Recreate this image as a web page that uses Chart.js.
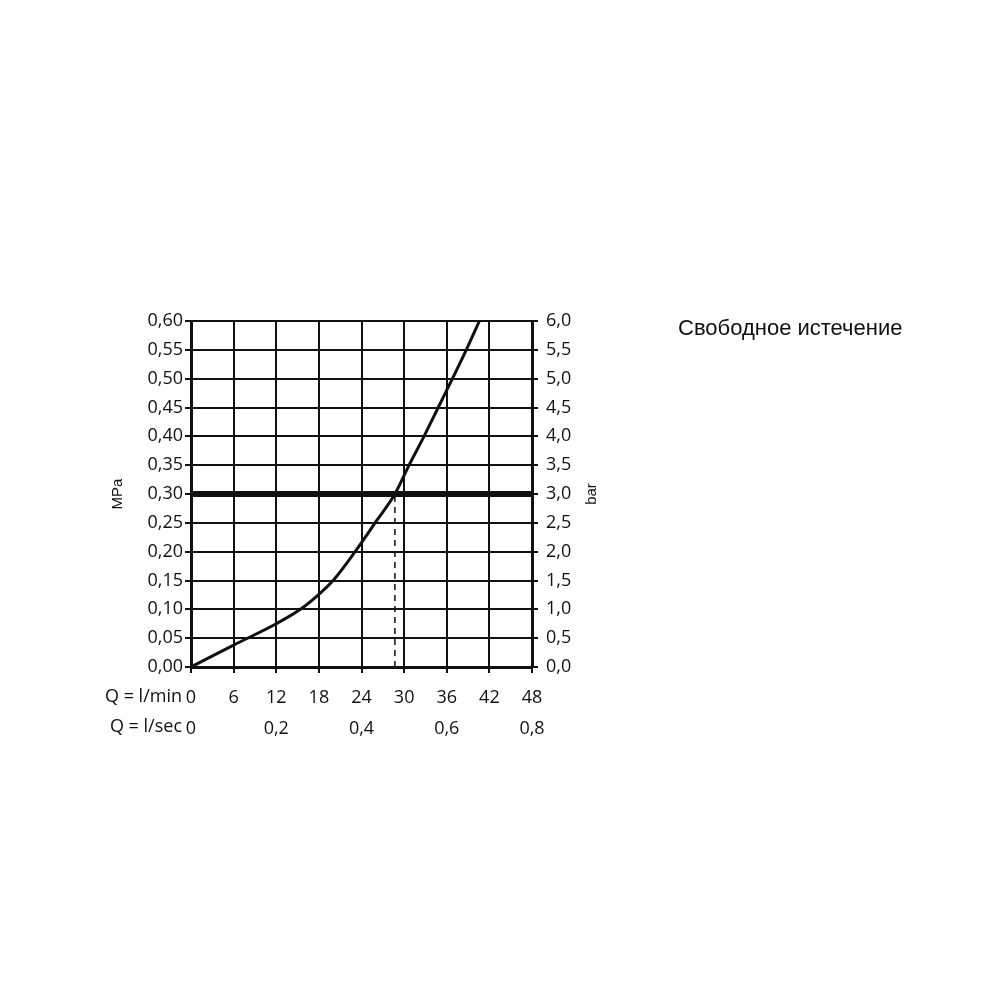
<!DOCTYPE html>
<html>
<head>
<meta charset="utf-8">
<script src="https://cdn.jsdelivr.net/npm/chart.js@4.4.1/dist/chart.umd.min.js"></script>
<style>
  html, body { margin: 0; padding: 0; background: #fff; }
  #wrap { width: 1000px; height: 1000px; position: relative; }
</style>
</head>
<body>
<div id="wrap"><canvas id="chart" width="1000" height="1000"></canvas></div>
<script>
// кривая расхода: Q (л/мин) -> давление (МПа)
const flowLmin = [0, 6, 12, 15.4, 18, 20, 23.1, 26.2, 28.7, 30.7, 32.8, 34.8, 36.8, 38.75, 40.6];
const pressureMPa = [0, 0.038, 0.075, 0.10, 0.126, 0.15, 0.20, 0.255, 0.30, 0.35, 0.40, 0.45, 0.50, 0.55, 0.60];

// рабочее давление 0,3 МПа и точка пересечения
const refPressure = 0.30;
const refFlow = 28.7;

const xRange = [0, 48];
const xSecRange = [0, 0.8];
const yRange = [0, 0.60];
const yBarRange = [0, 6.0];

const titleText = 'Свободное истечение';
const leftAxisTitle = 'MPa';
const rightAxisTitle = 'bar';
const rowLabels = ['Q = l/min', 'Q = l/sec'];

const INK = '#111';
const tickFont = { family: 'Open Sans', size: 18 };
const comma = (v, d) => v.toFixed(d).replace('.', ',');

// подписи, которые Chart.js сам не рисует
const extraText = {
    id: 'extraText',
    afterDraw(chart) {
        const { ctx, chartArea } = chart;
        ctx.save();
        ctx.fillStyle = INK;
        ctx.font = '22px "Liberation Sans"';
        ctx.textAlign = 'left';
        ctx.textBaseline = 'middle';
        ctx.fillText(titleText, 678, 329);

        ctx.font = '15px "Liberation Sans"';
        ctx.textAlign = 'center';
        const midY = (chartArea.top + chartArea.bottom) / 2;
        [[118, leftAxisTitle], [592, rightAxisTitle]].forEach(([x, t]) => {
            ctx.save();
            ctx.translate(x, midY);
            ctx.rotate(-Math.PI / 2);
            ctx.fillText(t, 0, 0);
            ctx.restore();
        });

        ctx.font = '18px "Open Sans"';
        ctx.textAlign = 'right';
        ctx.fillText(rowLabels[0], 182, 697);
        ctx.fillText(rowLabels[1], 182, 727);
        ctx.restore();
    }
};

new Chart(document.getElementById('chart'), {
    type: 'line',
    data: {
        datasets: [
            {
                data: flowLmin.map((x, i) => ({ x, y: pressureMPa[i] })),
                borderColor: INK,
                borderWidth: 3,
                pointRadius: 0,
                cubicInterpolationMode: 'monotone',
                order: 1
            },
            {
                data: [{ x: xRange[0], y: refPressure }, { x: xRange[1], y: refPressure }],
                borderColor: INK,
                borderWidth: 6,
                pointRadius: 0,
                order: 2
            },
            {
                data: [{ x: refFlow, y: 0 }, { x: refFlow, y: refPressure }],
                borderColor: INK,
                borderWidth: 1.5,
                borderDash: [6, 5],
                pointRadius: 0,
                order: 3
            }
        ]
    },
    options: {
        responsive: false,
        animation: false,
        layout: { padding: { top: 321, right: 0, left: 0, bottom: 0 } },
        plugins: { legend: { display: false }, tooltip: { enabled: false } },
        scales: {
            x: {
                type: 'linear', position: 'bottom',
                min: xRange[0], max: xRange[1],
                afterFit: s => { s.height = 39; },
                grid: { color: INK, lineWidth: 2, tickLength: 6, tickColor: INK },
                border: { color: INK, width: 3 },
                ticks: { stepSize: 6, color: INK, font: tickFont, padding: 14, maxRotation: 0 }
            },
            x2: {
                type: 'linear', position: 'bottom',
                min: xSecRange[0], max: xSecRange[1],
                afterFit: s => { s.height = 1000 - 667 - 39; },
                grid: { display: false },
                border: { display: false },
                ticks: { stepSize: 0.2, color: INK, font: tickFont, padding: 4, maxRotation: 0,
                         callback: v => v === 0 ? '0' : comma(v, 1) }
            },
            y: {
                position: 'left',
                min: yRange[0], max: yRange[1],
                afterFit: s => { s.width = 191; },
                grid: { color: INK, lineWidth: 2, tickLength: 6, tickColor: INK },
                border: { color: INK, width: 3 },
                ticks: { stepSize: 0.05, color: INK, font: tickFont, padding: 2,
                         callback: v => comma(v, 2) }
            },
            y2: {
                position: 'right',
                min: yBarRange[0], max: yBarRange[1],
                afterFit: s => { s.width = 1000 - 532; },
                grid: { drawOnChartArea: false, tickLength: 6, tickColor: INK, lineWidth: 2 },
                border: { color: INK, width: 3 },
                ticks: { stepSize: 0.5, color: INK, font: tickFont, padding: 8,
                         callback: v => comma(v, 1) }
            }
        }
    },
    plugins: [extraText]
});
</script>
</body>
</html>
